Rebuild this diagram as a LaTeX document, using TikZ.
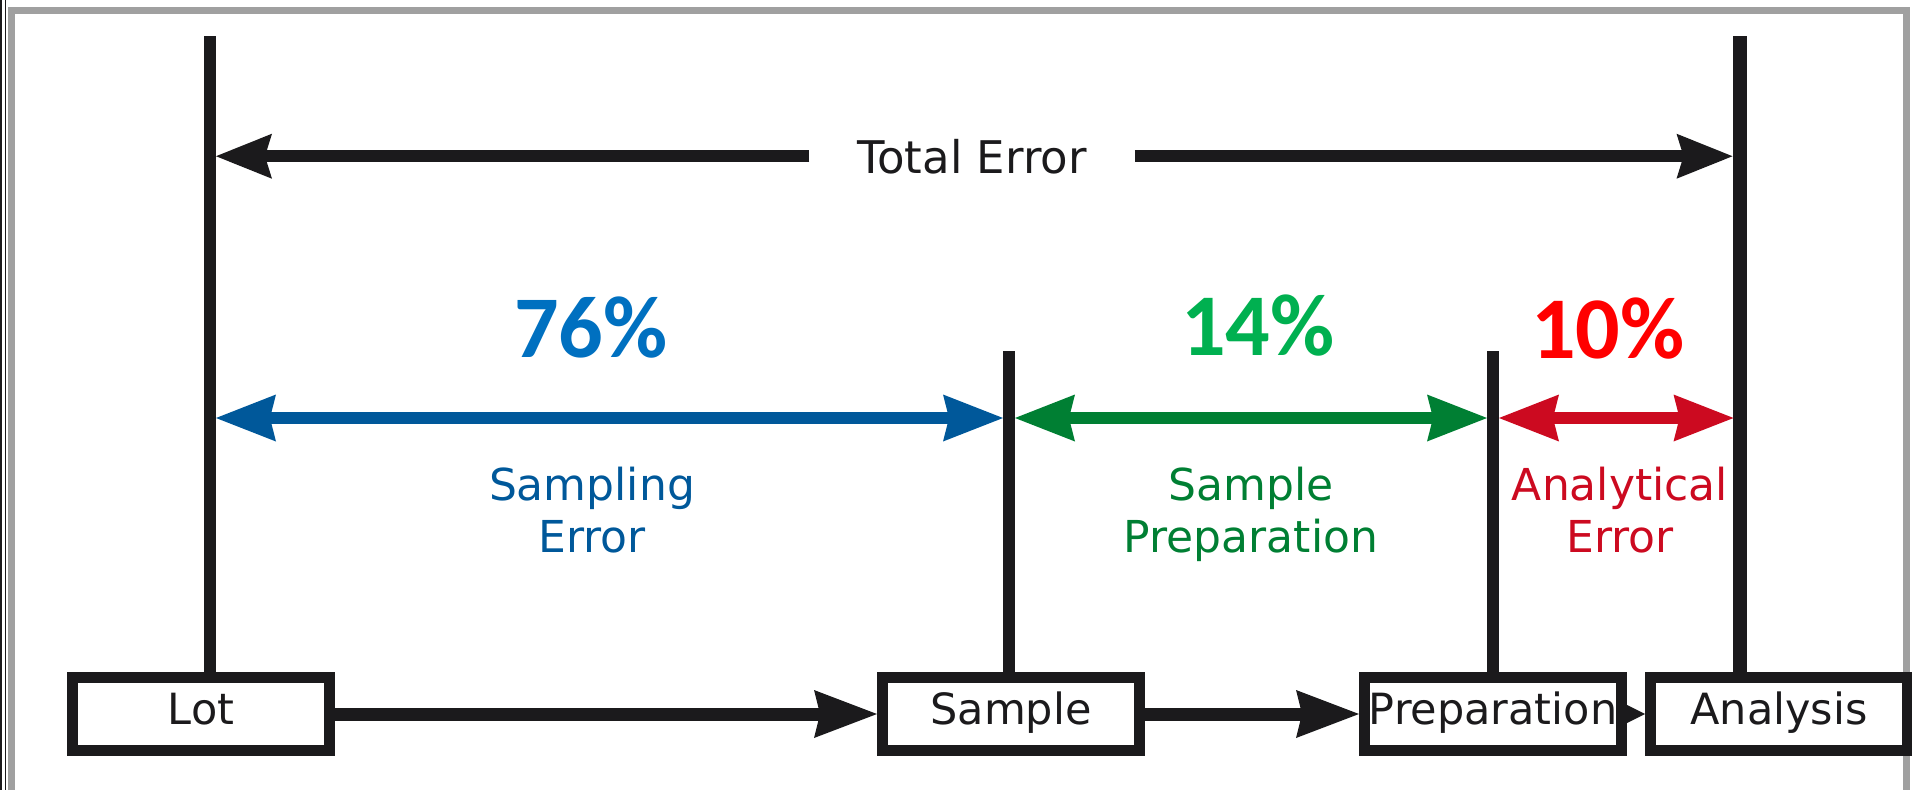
\documentclass[tikz,border=0pt]{standalone}
\usepackage{fontspec}
\setmainfont{DejaVu Sans}
\newfontfamily\pctfont{Carlito}
\usetikzlibrary{arrows.meta,positioning}
\definecolor{inkblack}{HTML}{1B1A1C}
\definecolor{framegray}{HTML}{A0A0A0}
\definecolor{sampblue}{HTML}{00589A}
\definecolor{pctblue}{HTML}{0070C0}
\definecolor{prepgreen}{HTML}{007F33}
\definecolor{pctgreen}{HTML}{00B050}
\definecolor{anared}{HTML}{CC0A20}
\definecolor{pctred}{HTML}{FF0000}
\tikzset{
  stage/.style={draw=inkblack,line width=11pt,fill=white,minimum width=257pt,minimum height=73pt,
    inner sep=0pt,text height=33pt,text depth=13pt,text=inkblack,font=\fontsize{43}{48}\selectfont},
  gate/.style={draw=inkblack,line width=12pt},
  reach/.style={-{Stealth[length=56pt,width=45pt,inset=7pt,line width=0pt]},line width=12pt,draw=inkblack},
  flowarrow/.style={-{Stealth[length=63pt,width=48pt,inset=6pt,line width=0pt]},line width=13pt,draw=inkblack},
  errspan/.style={{Stealth[length=60pt,width=47pt,inset=6pt,line width=0pt]}-{Stealth[length=60pt,width=47pt,inset=6pt,line width=0pt]},
    line width=12pt,draw=#1,shorten <=6pt,shorten >=6pt},
  pct/.style={anchor=base,inner sep=0pt,font=\pctfont\bfseries\fontsize{88}{88}\selectfont},
  errlabel/.style={anchor=north,align=center,inner sep=0pt,font=\fontsize{44}{52}\selectfont}
}

\begin{document}
\begin{tikzpicture}[x=1pt,y=-1pt]
\useasboundingbox (0,0) rectangle (1912,790);

% frame
\draw[inkblack,line width=2pt] (1,0) -- (1,790);
\draw[inkblack,line width=1.5pt] (5.5,0) -- (5.5,790);
\draw[framegray,line width=7pt] (11,790) -- (11,10) -- (1906.5,10) -- (1906.5,790);

% process row
\node[stage] (lot) at (201,714) {Lot};
\node[stage, right=542pt of lot] (sample) {Sample};
\node[stage, right=214pt of sample] (prep) {Preparation};
\node[stage, right=18pt of prep] (analysis) {Analysis};

\draw[flowarrow] (lot) -- (sample);
\draw[flowarrow] (sample) -- (prep);
\draw[-{Stealth[length=22pt,width=22pt,line width=0pt]},line width=13pt,draw=inkblack] (prep) -- (analysis);

% boundary markers
\coordinate (lotmark) at (210,36);
\coordinate (samplemark) at (1009,351);
\coordinate (prepmark) at (1493,351);
\coordinate (anamark) at (1739.5,36);
\draw[gate] (lotmark) -- (lotmark |- lot.north);
\draw[gate] (samplemark) -- (samplemark |- sample.north);
\draw[gate] (prepmark) -- (prepmark |- prep.north);
\draw[gate,line width=14pt] (anamark) -- (anamark |- analysis.north);

% total error
\node[anchor=base,inner xsep=48pt,inner ysep=0pt,text=inkblack,font=\fontsize{45}{50}\selectfont] (total) at (972,173) {Total Error};
\draw[reach,shorten >=6pt] (total.west) -- (lotmark |- total.west);
\draw[reach,shorten >=7pt] (total.east) -- (anamark |- total.east);

% error shares
\coordinate (spanrow) at (0,418);
\draw[errspan=sampblue] (lotmark |- spanrow) -- (samplemark |- spanrow);
\draw[errspan=prepgreen] (samplemark |- spanrow) -- (prepmark |- spanrow);
\draw[errspan=anared] (prepmark |- spanrow) -- (anamark |- spanrow);

\node[pct,text=pctblue] (p76) at (591,357) {76\%};
\node[pct,text=pctgreen] (p14) at (1258,355) {14\%};
\node[pct,text=pctred] (p10) at (1608,358) {10\%};

\node[errlabel,text=sampblue] (samperr) at (592,467) {Sampling\\Error};
\node[errlabel,text=prepgreen] (preperr) at (1251,467) {Sample\\Preparation};
\node[errlabel,text=anared] (anaerr) at (1620,467) {Analytical\\Error};

\end{tikzpicture}
\end{document}
